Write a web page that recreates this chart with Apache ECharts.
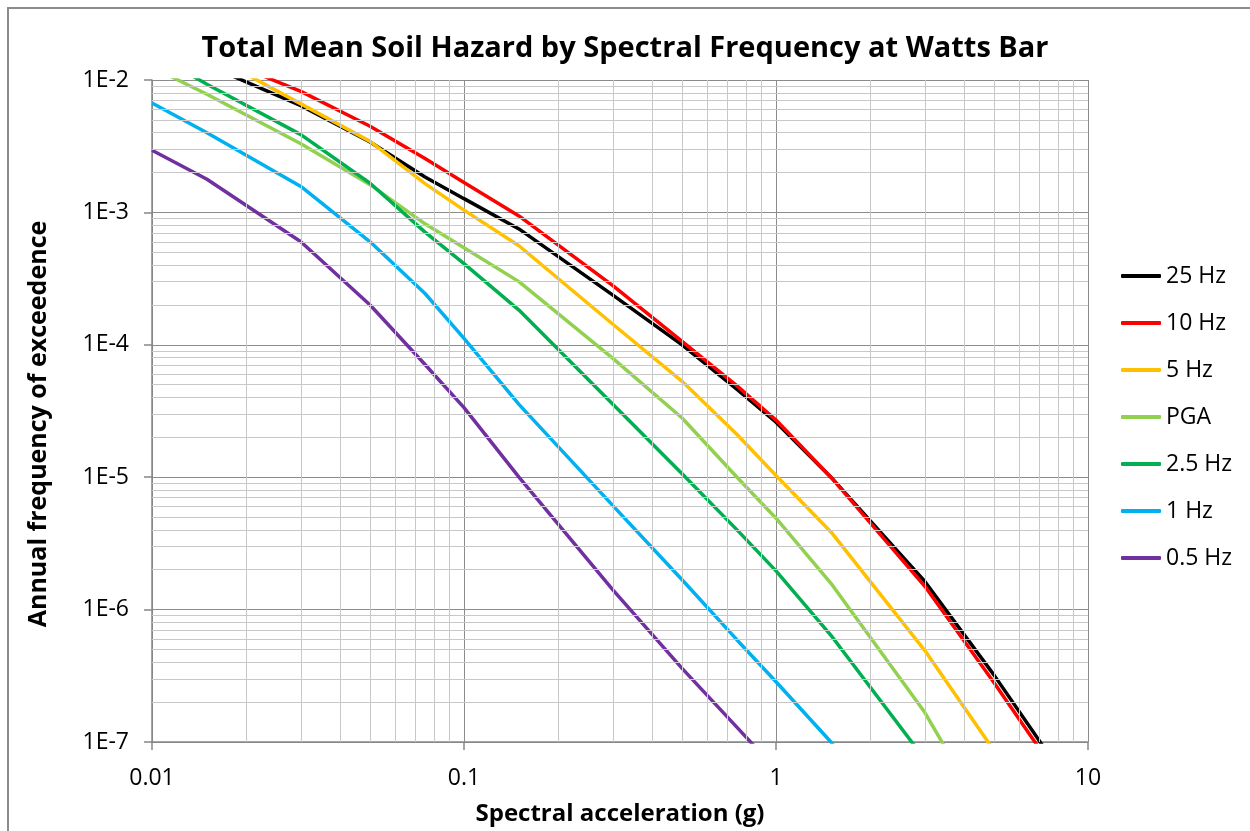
<!DOCTYPE html>
<html>
<head>
<meta charset="utf-8">
<script src="https://cdn.jsdelivr.net/npm/echarts@6/dist/echarts.min.js"></script>
<style>
  html, body { margin: 0; padding: 0; background: #ffffff; }
  #chart { width: 1250px; height: 831px; }
</style>
</head>
<body>
<div id="chart"></div>
<script>
// Spectral acceleration levels (g) at which the hazard is tabulated
const accel = [0.01, 0.015, 0.03, 0.05, 0.075, 0.1, 0.15, 0.3, 0.5, 0.75, 1, 1.5, 3, 5, 7.5, 10];

// Mean annual frequency of exceedance for each spectral frequency
const hz25  = [2.0e-2, 1.3e-2, 6.4e-3, 3.4e-3, 1.85e-3, 1.27e-3, 7.5e-4, 2.37e-4, 1.0e-4, 4.6e-5, 2.6e-5, 1.0e-5, 1.63e-6, 3.2e-7, 8.0e-8];
const hz10  = [2.4e-2, 1.6e-2, 8.2e-3, 4.47e-3, 2.55e-3, 1.68e-3, 9.4e-4, 2.8e-4, 1.06e-4, 4.9e-5, 2.7e-5, 1.0e-5, 1.5e-6, 2.8e-7, 7.0e-8];
const hz5   = [2.6e-2, 1.6e-2, 6.6e-3, 3.44e-3, 1.65e-3, 1.04e-3, 5.6e-4, 1.43e-4, 5.3e-5, 2.1e-5, 1.03e-5, 3.86e-6, 4.9e-7, 8.6e-8];
const pga   = [1.25e-2, 7.8e-3, 3.3e-3, 1.62e-3, 8.2e-4, 5.4e-4, 3.0e-4, 7.9e-5, 2.8e-5, 1.0e-5, 4.9e-6, 1.58e-6, 1.67e-7, 2.1e-8];
const hz2p5 = [1.6e-2, 9.3e-3, 3.87e-3, 1.66e-3, 7.1e-4, 4.1e-4, 1.83e-4, 3.55e-5, 1.06e-5, 4.0e-6, 1.96e-6, 6.4e-7, 7.4e-8];
const hz1   = [6.7e-3, 4.0e-3, 1.57e-3, 6.0e-4, 2.44e-4, 1.12e-4, 3.55e-5, 6.1e-6, 1.68e-6, 5.9e-7, 2.85e-7, 1.0e-7, 1.2e-8];
const hz0p5 = [2.95e-3, 1.78e-3, 6.0e-4, 2.0e-4, 7.1e-5, 3.35e-5, 1.0e-5, 1.41e-6, 3.6e-7, 1.29e-7, 6.2e-8];

const seriesNames  = ['25 Hz', '10 Hz', '5 Hz', 'PGA', '2.5 Hz', '1 Hz', '0.5 Hz'];
const seriesValues = [hz25, hz10, hz5, pga, hz2p5, hz1, hz0p5];
const seriesColors = ['#000000', '#FF0000', '#FFC000', '#92D050', '#00B050', '#00B0F0', '#7030A0'];

// Axis ranges and tick labels
const xRange = [0.01, 10];
const yRange = [1e-7, 1e-2];
const xTickLabels = ['0.01', '0.1', '1', '10'];
const yTickLabels = ['1E-7', '1E-6', '1E-5', '1E-4', '1E-3', '1E-2'];

// Intermediate log-cycle gridlines (2..9 within every decade)
const xDecades = [0.01, 0.1, 1];
const yDecades = [1e-7, 1e-6, 1e-5, 1e-4, 1e-3];
const cycleSteps = [2, 3, 4, 5, 6, 7, 8, 9];
const xMinor = [];
xDecades.forEach(d => cycleSteps.forEach(k => xMinor.push(+(d * k).toPrecision(3))));
const yMinor = [];
yDecades.forEach(d => cycleSteps.forEach(k => yMinor.push(+(d * k).toPrecision(3))));

const FONT = '"Open Sans", "Noto Sans", sans-serif';
const GRID_MAJOR = '#8c8c8c';
const GRID_MINOR = '#c8c8c8';
const AXIS_GREY = '#868686';

const chart = echarts.init(document.getElementById('chart'), null, { renderer: 'canvas' });

const curveSeries = seriesNames.map((name, i) => ({
  name: name,
  type: 'line',
  data: seriesValues[i].map((v, j) => [accel[j], v]),
  symbol: 'none',
  showSymbol: false,
  clip: true,
  z: 3,
  lineStyle: { color: seriesColors[i], width: 3.5 },
  itemStyle: { color: seriesColors[i] },
  emphasis: { disabled: true },
  animation: false
}));

// light gridlines for the 2..9 subdivisions of each decade
const minorLines = xMinor.map(v => [{ coord: [v, yRange[0]] }, { coord: [v, yRange[1]] }])
  .concat(yMinor.map(v => [{ coord: [xRange[0], v] }, { coord: [xRange[1], v] }]));

const minorGridSeries = {
  name: 'minor-grid',
  type: 'line',
  data: [],
  silent: true,
  z: 0,
  animation: false,
  markLine: {
    silent: true,
    symbol: ['none', 'none'],
    label: { show: false },
    animation: false,
    lineStyle: { color: GRID_MINOR, width: 1, type: 'solid' },
    emphasis: { disabled: true },
    data: minorLines
  }
};

chart.setOption({
  backgroundColor: '#ffffff',
  animation: false,
  title: {
    text: 'Total Mean Soil Hazard by Spectral Frequency at Watts Bar',
    left: 'center',
    top: 29,
    textStyle: { fontFamily: FONT, fontWeight: 'bold', fontSize: 29, color: '#000000' }
  },
  graphic: [{
    type: 'rect',
    silent: true,
    z: -10,
    shape: { x: 8, y: 8, width: 1300, height: 900 },
    style: { fill: 'none', stroke: '#8c8c8c', lineWidth: 2 }
  }],
  legend: {
    orient: 'vertical',
    left: 1116,
    top: 259,
    icon: 'roundRect',
    itemWidth: 40,
    itemHeight: 4,
    itemGap: 23,
    data: seriesNames,
    textStyle: { fontFamily: FONT, fontSize: 23, color: '#000000', lineHeight: 24 }
  },
  grid: { left: 152, right: 162, top: 80, bottom: 85, containLabel: false },
  xAxis: {
    type: 'log',
    logBase: 10,
    min: xRange[0],
    max: xRange[1],
    z: 1,
    name: 'Spectral acceleration (g)',
    nameLocation: 'middle',
    nameGap: 60,
    nameTextStyle: { fontFamily: FONT, fontWeight: 'bold', fontSize: 24, color: '#000000' },
    axisLine: { show: true, onZero: false, lineStyle: { color: AXIS_GREY, width: 1.5 } },
    axisTick: { show: true, inside: false, length: 8, lineStyle: { color: AXIS_GREY, width: 1.5 } },
    axisLabel: {
      margin: 25,
      fontFamily: FONT,
      fontSize: 23,
      color: '#000000',
      formatter: (value, index) => xTickLabels[index]
    },
    splitLine: { show: true, lineStyle: { color: GRID_MAJOR, width: 1 } },
    minorTick: { show: false },
    minorSplitLine: { show: false }
  },
  yAxis: {
    type: 'log',
    logBase: 10,
    min: yRange[0],
    max: yRange[1],
    z: 1,
    name: 'Annual frequency of exceedence',
    nameLocation: 'middle',
    nameGap: 101,
    nameRotate: 90,
    nameTextStyle: { fontFamily: FONT, fontWeight: 'bold', fontSize: 25, color: '#000000', padding: [0, 26, 0, 0] },
    axisLine: { show: true, onZero: false, lineStyle: { color: AXIS_GREY, width: 1.5 } },
    axisTick: { show: true, inside: false, length: 8, lineStyle: { color: AXIS_GREY, width: 1.5 } },
    axisLabel: {
      margin: 23,
      fontFamily: FONT,
      fontSize: 23,
      color: '#000000',
      formatter: (value, index) => yTickLabels[index]
    },
    splitLine: { show: true, lineStyle: { color: GRID_MAJOR, width: 1 } },
    minorTick: { show: false },
    minorSplitLine: { show: false }
  },
  series: [minorGridSeries].concat(curveSeries)
});
</script>
</body>
</html>
